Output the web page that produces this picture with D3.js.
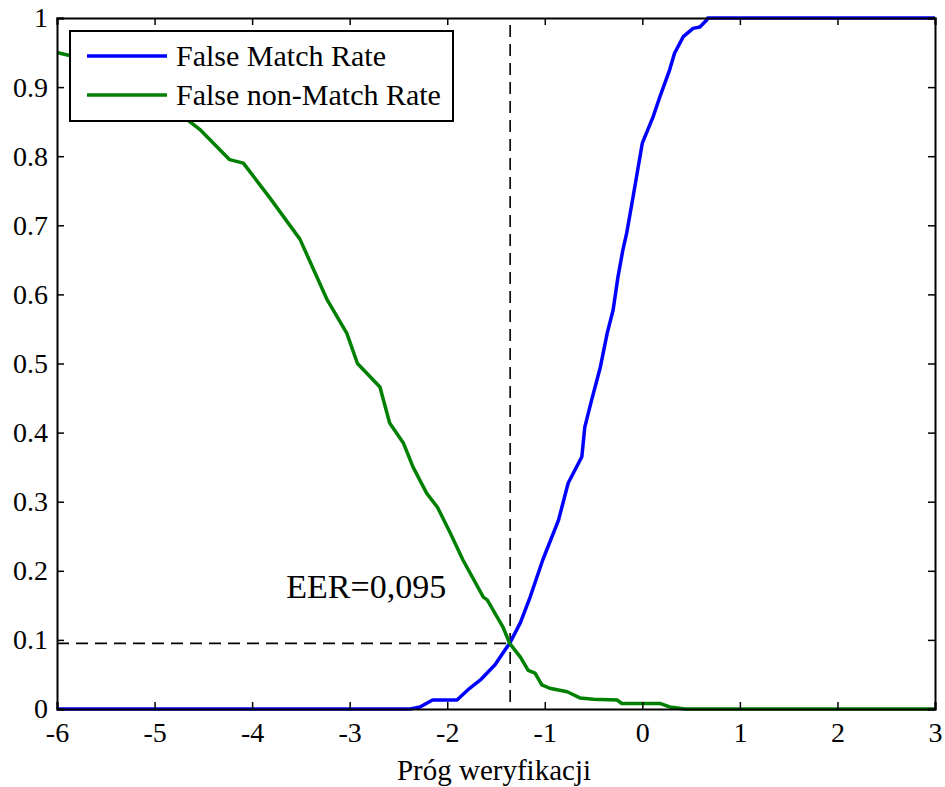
<!DOCTYPE html>
<html>
<head>
<meta charset="utf-8">
<script src="https://cdn.jsdelivr.net/npm/d3@7"></script>
<style>
  body { margin: 0; background: #fff; }
  svg text { font-family: "Liberation Serif", "Times New Roman", serif; }
</style>
</head>
<body>
<div id="chart"></div>
<script>
// threshold values and rates
const fmrX = [-6, -2.38, -2.28, -2.15, -1.9, -1.77, -1.66, -1.51, -1.41, -1.36, -1.25, -1.15, -1.02, -0.86, -0.76, -0.62, -0.59, -0.52, -0.43, -0.36, -0.30, -0.25, -0.2, -0.16, -0.1, 0.0, 0.11, 0.18, 0.28, 0.33, 0.42, 0.52, 0.59, 0.66, 0.67, 3];
const fmrY = [0, 0, 0.003, 0.013, 0.013, 0.03, 0.042, 0.064, 0.085, 0.095, 0.125, 0.162, 0.216, 0.273, 0.327, 0.365, 0.408, 0.447, 0.495, 0.544, 0.577, 0.625, 0.664, 0.689, 0.737, 0.819, 0.857, 0.886, 0.925, 0.949, 0.973, 0.985, 0.987, 0.997, 1, 1];

const fnmrX = [-6, -5.85, -5.5, -5.2, -4.9, -4.64, -4.53, -4.23, -4.09, -3.82, -3.51, -3.23, -3.03, -2.92, -2.69, -2.59, -2.45, -2.35, -2.21, -2.1, -1.97, -1.84, -1.63, -1.59, -1.43, -1.36, -1.25, -1.17, -1.1, -1.03, -0.95, -0.77, -0.64, -0.5, -0.26, -0.21, 0.18, 0.28, 0.44, 3];
const fnmrY = [0.95, 0.945, 0.93, 0.91, 0.885, 0.85, 0.838, 0.795, 0.79, 0.74, 0.68, 0.592, 0.544, 0.5, 0.466, 0.414, 0.385, 0.35, 0.312, 0.292, 0.255, 0.216, 0.162, 0.158, 0.119, 0.095, 0.075, 0.056, 0.052, 0.035, 0.03, 0.025, 0.016, 0.014, 0.013, 0.008, 0.008, 0.003, 0, 0];

const xTicks = [-6, -5, -4, -3, -2, -1, 0, 1, 2, 3];
const yTicks = [0, 0.1, 0.2, 0.3, 0.4, 0.5, 0.6, 0.7, 0.8, 0.9, 1];
const seriesNames = ["False Match Rate", "False non-Match Rate"];
const seriesColors = ["#0000ff", "#008000"];
const eerX = -1.355, eerY = 0.095;
const eerLabel = "EER=0,095";
const xLabel = "Próg weryfikacji";

const margin = {top: 18, right: 10, bottom: 78, left: 57};
const W = 945, H = 787;
const width = W - margin.left - margin.right;
const height = H - margin.top - margin.bottom;

const svg = d3.select("#chart").append("svg")
  .attr("width", W).attr("height", H)
  .append("g")
  .attr("transform", "translate(" + margin.left + "," + margin.top + ")");

const x = d3.scaleLinear().domain([-6, 3]).range([0, width]);
const y = d3.scaleLinear().domain([0, 1]).range([height, 0]);

const line = d3.line().x(d => x(d[0])).y(d => y(d[1]));

// dashed EER guides
svg.append("path")
  .attr("d", line([[eerX, 0.99], [eerX, 0]]))
  .attr("stroke", "#000").attr("stroke-width", 1.6)
  .attr("stroke-dasharray", "12,7").attr("fill", "none");
svg.append("path")
  .attr("d", line([[-6, eerY], [eerX, eerY]]))
  .attr("stroke", "#000").attr("stroke-width", 1.6)
  .attr("stroke-dasharray", "12,7").attr("fill", "none");

// curves
const series = [d3.zip(fmrX, fmrY), d3.zip(fnmrX, fnmrY)];
series.forEach((s, i) => {
  svg.append("path")
    .datum(s)
    .attr("d", line)
    .attr("fill", "none")
    .attr("stroke", seriesColors[i])
    .attr("stroke-width", 3.5)
    .attr("stroke-linejoin", "round");
});

// axes, ticks inside, mirrored on top and right
const fmt = d => String(+d.toFixed(1));
const gx = svg.append("g").attr("transform", "translate(0," + height + ")")
  .call(d3.axisBottom(x).tickValues(xTicks).tickSize(-7).tickPadding(13).tickFormat(d => d < 0 ? "-" + Math.abs(d) : String(d)));
const gxt = svg.append("g")
  .call(d3.axisTop(x).tickValues(xTicks).tickSize(-7).tickFormat(""));
const gy = svg.append("g")
  .call(d3.axisLeft(y).tickValues(yTicks).tickSize(-7).tickPadding(9).tickFormat(fmt));
const gyr = svg.append("g").attr("transform", "translate(" + width + ",0)")
  .call(d3.axisRight(y).tickValues(yTicks).tickSize(-7).tickFormat(""));

[gx, gxt, gy, gyr].forEach(g => {
  g.attr("font-family", null).attr("font-size", null);
  g.select(".domain").attr("stroke", "#000").attr("stroke-width", 2);
  g.selectAll(".tick line").attr("stroke", "#000").attr("stroke-width", 1.5);
  g.selectAll("text").style("font-family", "'Liberation Serif', serif").style("font-size", "28px").attr("fill", "#000");
});

svg.append("text")
  .attr("x", width / 2 - 2).attr("y", height + 71)
  .attr("text-anchor", "middle")
  .style("font-size", "29px")
  .text(xLabel);

svg.append("text")
  .attr("x", x(-3.65)).attr("y", y(0.161))
  .style("font-size", "34px")
  .text(eerLabel);

// legend
const leg = svg.append("g").attr("transform", "translate(13,13)");
leg.append("rect")
  .attr("width", 383).attr("height", 90)
  .attr("fill", "#fff").attr("stroke", "#000").attr("stroke-width", 2);
seriesNames.forEach((n, i) => {
  const yy = 25 + i * 39;
  leg.append("line")
    .attr("x1", 17).attr("x2", 97).attr("y1", yy).attr("y2", yy)
    .attr("stroke", seriesColors[i]).attr("stroke-width", 3.5);
  leg.append("text")
    .attr("x", 106).attr("y", yy + 10)
    .style("font-size", "30px")
    .text(n);
});
</script>
</body>
</html>
